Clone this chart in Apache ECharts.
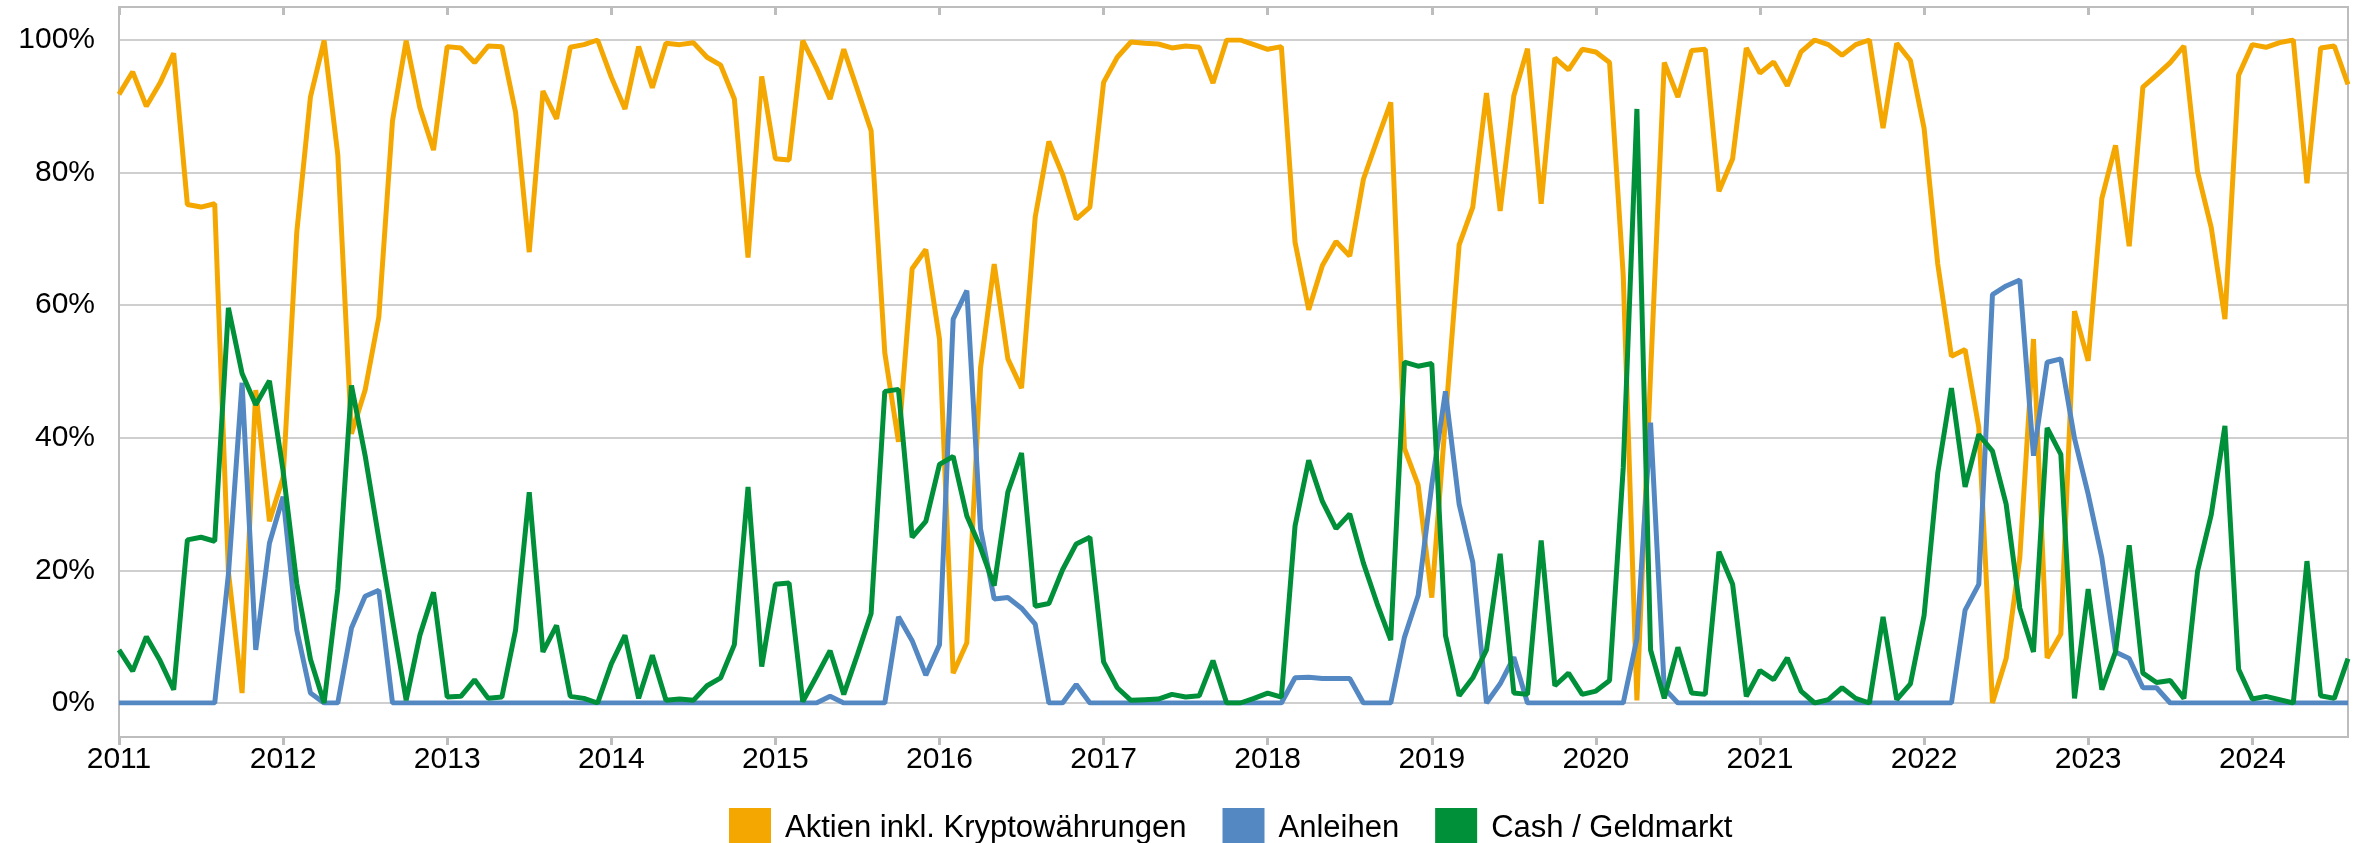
<!DOCTYPE html>
<html>
<head>
<meta charset="utf-8">
<script src="https://cdn.jsdelivr.net/npm/echarts@6/dist/echarts.min.js"></script>
<style>
  html, body { margin: 0; padding: 0; background: #fff; }
  #chart { width: 2361px; height: 843px; }
</style>
</head>
<body>
<div id="chart"></div>
<script>
// Monatsreihe Jan 2011 – Aug 2024
const months = [];
for (let y = 2011; y <= 2024; y++) {
  for (let m = 1; m <= 12; m++) {
    if (y === 2024 && m > 8) break;
    months.push(y + "-" + String(m).padStart(2, "0"));
  }
}

const aktien = [
  91.8, 95.2, 90.0, 93.5, 98.0, 75.2, 74.8, 75.3, 19.8, 1.5, 47.2, 27.4,
  34.0, 71.0, 91.4, 99.9, 82.7, 40.6, 47.2, 58.2, 87.8, 99.9, 89.8, 83.4,
  99.0, 98.8, 96.6, 99.1, 99.0, 89.1, 68.0, 92.3, 88.1, 98.9, 99.3, 100,
  94.4, 89.6, 99.0, 92.8, 99.5, 99.3, 99.6, 97.4, 96.2, 91.1, 67.2, 94.5,
  82.1, 81.9, 99.9, 95.8, 91.1, 98.6, 92.5, 86.3, 52.8, 39.4, 65.5, 68.4,
  54.9, 4.5, 9.1, 50.5, 66.2, 51.9, 47.5, 73.3, 84.7, 79.7, 73.0, 74.8,
  93.6, 97.4, 99.7, 99.5, 99.4, 98.8, 99.1, 98.9, 93.5, 100, 100, 99.3,
  98.6, 99.0, 69.5, 59.3, 66.0, 69.6, 67.4, 79.0, 84.9, 90.6, 38.4, 32.9,
  15.9, 42.8, 69.1, 74.8, 92.0, 74.2, 91.6, 98.7, 75.3, 97.3, 95.5, 98.6,
  98.2, 96.6, 64.5, 0.4, 49.7, 96.6, 91.4, 98.4, 98.6, 77.2, 82.1, 98.8,
  95.0, 96.7, 93.1, 98.2, 100, 99.3, 97.7, 99.3, 100, 86.7, 99.5, 96.9,
  86.7, 66.2, 52.3, 53.3, 41.6, 0, 6.7, 21.9, 54.9, 6.8, 10.4, 59.1,
  51.6, 76.1, 84.1, 68.9, 92.9, 94.7, 96.6, 99.1, 80.1, 71.7, 57.9, 94.7,
  99.3, 98.9, 99.6, 100, 78.4, 98.8, 99.1, 93.3
];

const anleihen = [
  0, 0, 0, 0, 0, 0, 0, 0, 19.4, 48.3, 8.0, 24.1,
  31.1, 11.0, 1.5, 0, 0, 11.3, 16.1, 17.0, 0, 0, 0, 0,
  0, 0, 0, 0, 0, 0, 0, 0, 0, 0, 0, 0,
  0, 0, 0, 0, 0, 0, 0, 0, 0, 0, 0, 0,
  0, 0, 0, 0, 1.0, 0, 0, 0, 0, 13.0, 9.4, 4.2,
  8.8, 57.9, 62.2, 26.3, 15.7, 15.9, 14.3, 11.9, 0, 0, 2.8, 0,
  0, 0, 0, 0, 0, 0, 0, 0, 0, 0, 0, 0,
  0, 0, 3.8, 3.9, 3.7, 3.7, 3.7, 0, 0, 0, 9.9, 16.2,
  32.9, 47.0, 30.0, 21.2, 0, 2.9, 6.9, 0, 0, 0, 0, 0,
  0, 0, 0, 9.7, 42.3, 2.2, 0, 0, 0, 0, 0, 0,
  0, 0, 0, 0, 0, 0, 0, 0, 0, 0, 0, 0,
  0, 0, 0, 14.0, 17.9, 61.6, 62.9, 63.8, 37.3, 51.4, 51.9, 39.9,
  31.5, 21.9, 7.7, 6.7, 2.3, 2.3, 0, 0, 0, 0, 0, 0,
  0, 0, 0, 0, 0, 0, 0, 0
];

const cash = [
  8.0, 4.8, 10.0, 6.4, 2.0, 24.6, 25.0, 24.4, 59.6, 49.7, 45.0, 48.6,
  35.0, 18.0, 6.6, 0, 17.2, 47.9, 37.3, 24.8, 12.5, 0.4, 10.2, 16.7,
  0.9, 1.0, 3.5, 0.7, 0.9, 11.0, 31.8, 7.7, 11.7, 1.0, 0.7, 0,
  5.9, 10.2, 0.7, 7.2, 0.4, 0.6, 0.4, 2.6, 3.8, 8.8, 32.6, 5.5,
  17.9, 18.1, 0.2, 4.0, 7.9, 1.3, 7.3, 13.5, 47.0, 47.3, 25.0, 27.4,
  36.0, 37.2, 28.2, 23.4, 17.7, 31.8, 37.7, 14.6, 15.0, 20.1, 24.0, 25.0,
  6.2, 2.3, 0.4, 0.5, 0.6, 1.3, 0.9, 1.1, 6.4, 0, 0, 0.7,
  1.5, 0.9, 26.7, 36.6, 30.4, 26.3, 28.5, 21.1, 15.0, 9.5, 51.4, 50.8,
  51.2, 10.2, 1.1, 3.8, 8.0, 22.5, 1.5, 1.3, 24.5, 2.6, 4.5, 1.3,
  1.8, 3.4, 35.5, 89.6, 8.0, 0.7, 8.4, 1.5, 1.3, 22.8, 17.9, 1.0,
  4.9, 3.5, 6.8, 1.8, 0, 0.5, 2.3, 0.7, 0, 13.0, 0.5, 2.9,
  13.2, 34.7, 47.5, 32.6, 40.5, 38.0, 30.0, 14.3, 7.7, 41.5, 37.5, 0.7,
  17.2, 2.0, 7.7, 23.8, 4.5, 3.1, 3.4, 0.7, 19.9, 28.4, 41.8, 5.1,
  0.6, 1.0, 0.5, 0, 21.4, 1.1, 0.7, 6.7
];

const yTicks = [0, 20, 40, 60, 80, 100];

const chart = echarts.init(document.getElementById("chart"));
const isJan = (index, value) => value.slice(5) === "01";
const font = "Liberation Sans, Arial, sans-serif";

chart.setOption({
  animation: false,
  textStyle: { fontFamily: font },
  legend: {
    left: 724,
    top: 803,
    icon: "rect",
    itemWidth: 42,
    itemHeight: 40,
    itemGap: 36,
    textStyle: { fontSize: 31, color: "#000", padding: [0, 0, 0, 9] },
    data: ["Aktien inkl. Kryptowährungen", "Anleihen", "Cash / Geldmarkt"],
  },
  grid: [
    // Rahmen
    { left: 119, right: 13, top: 7, bottom: 106, show: true, borderColor: "#bdbdbd", borderWidth: 2 },
    // Datenbereich 0–100 %
    { left: 119, right: 13, top: 40, bottom: 140 },
  ],
  xAxis: [
    {
      gridIndex: 0,
      type: "category",
      data: months,
      boundaryGap: false,
      axisLine: { lineStyle: { color: "#bdbdbd", width: 2 } },
      axisTick: { interval: isJan, length: 8, lineStyle: { color: "#bdbdbd", width: 3 } },
      axisLabel: {
        interval: isJan,
        formatter: (v) => v.slice(0, 4),
        fontSize: 30,
        color: "#000",
        margin: 8,
      },
    },
    {
      gridIndex: 0,
      type: "category",
      data: months,
      boundaryGap: false,
      axisLine: { show: false },
      axisTick: { inside: true, interval: isJan, length: 8, lineStyle: { color: "#bdbdbd", width: 3 } },
      axisLabel: { show: false },
    },
    {
      gridIndex: 1,
      type: "category",
      data: months,
      boundaryGap: false,
      show: false,
    },
  ],
  yAxis: [
    { gridIndex: 0, type: "value", show: false, splitLine: { show: false } },
    {
      gridIndex: 1,
      type: "value",
      min: yTicks[0],
      max: yTicks[yTicks.length - 1],
      interval: 20,
      axisLine: { show: false },
      axisTick: { show: false },
      axisLabel: { formatter: "{value}%", fontSize: 30, color: "#000", margin: 24 },
      splitLine: { lineStyle: { color: "#bfbfbf", width: 1.5 } },
    },
  ],
  series: [
    {
      name: "Aktien inkl. Kryptowährungen",
      type: "line",
      xAxisIndex: 2,
      yAxisIndex: 1,
      data: aktien,
      showSymbol: false,
      itemStyle: { color: "#F4A700" },
      lineStyle: { color: "#F4A700", width: 5 },
    },
    {
      name: "Anleihen",
      type: "line",
      xAxisIndex: 2,
      yAxisIndex: 1,
      data: anleihen,
      showSymbol: false,
      itemStyle: { color: "#5488C3" },
      lineStyle: { color: "#5488C3", width: 5 },
    },
    {
      name: "Cash / Geldmarkt",
      type: "line",
      xAxisIndex: 2,
      yAxisIndex: 1,
      data: cash,
      showSymbol: false,
      itemStyle: { color: "#00903A" },
      lineStyle: { color: "#00903A", width: 5 },
    },
  ],
});

window.addEventListener("resize", () => chart.resize());
</script>
</body>
</html>
